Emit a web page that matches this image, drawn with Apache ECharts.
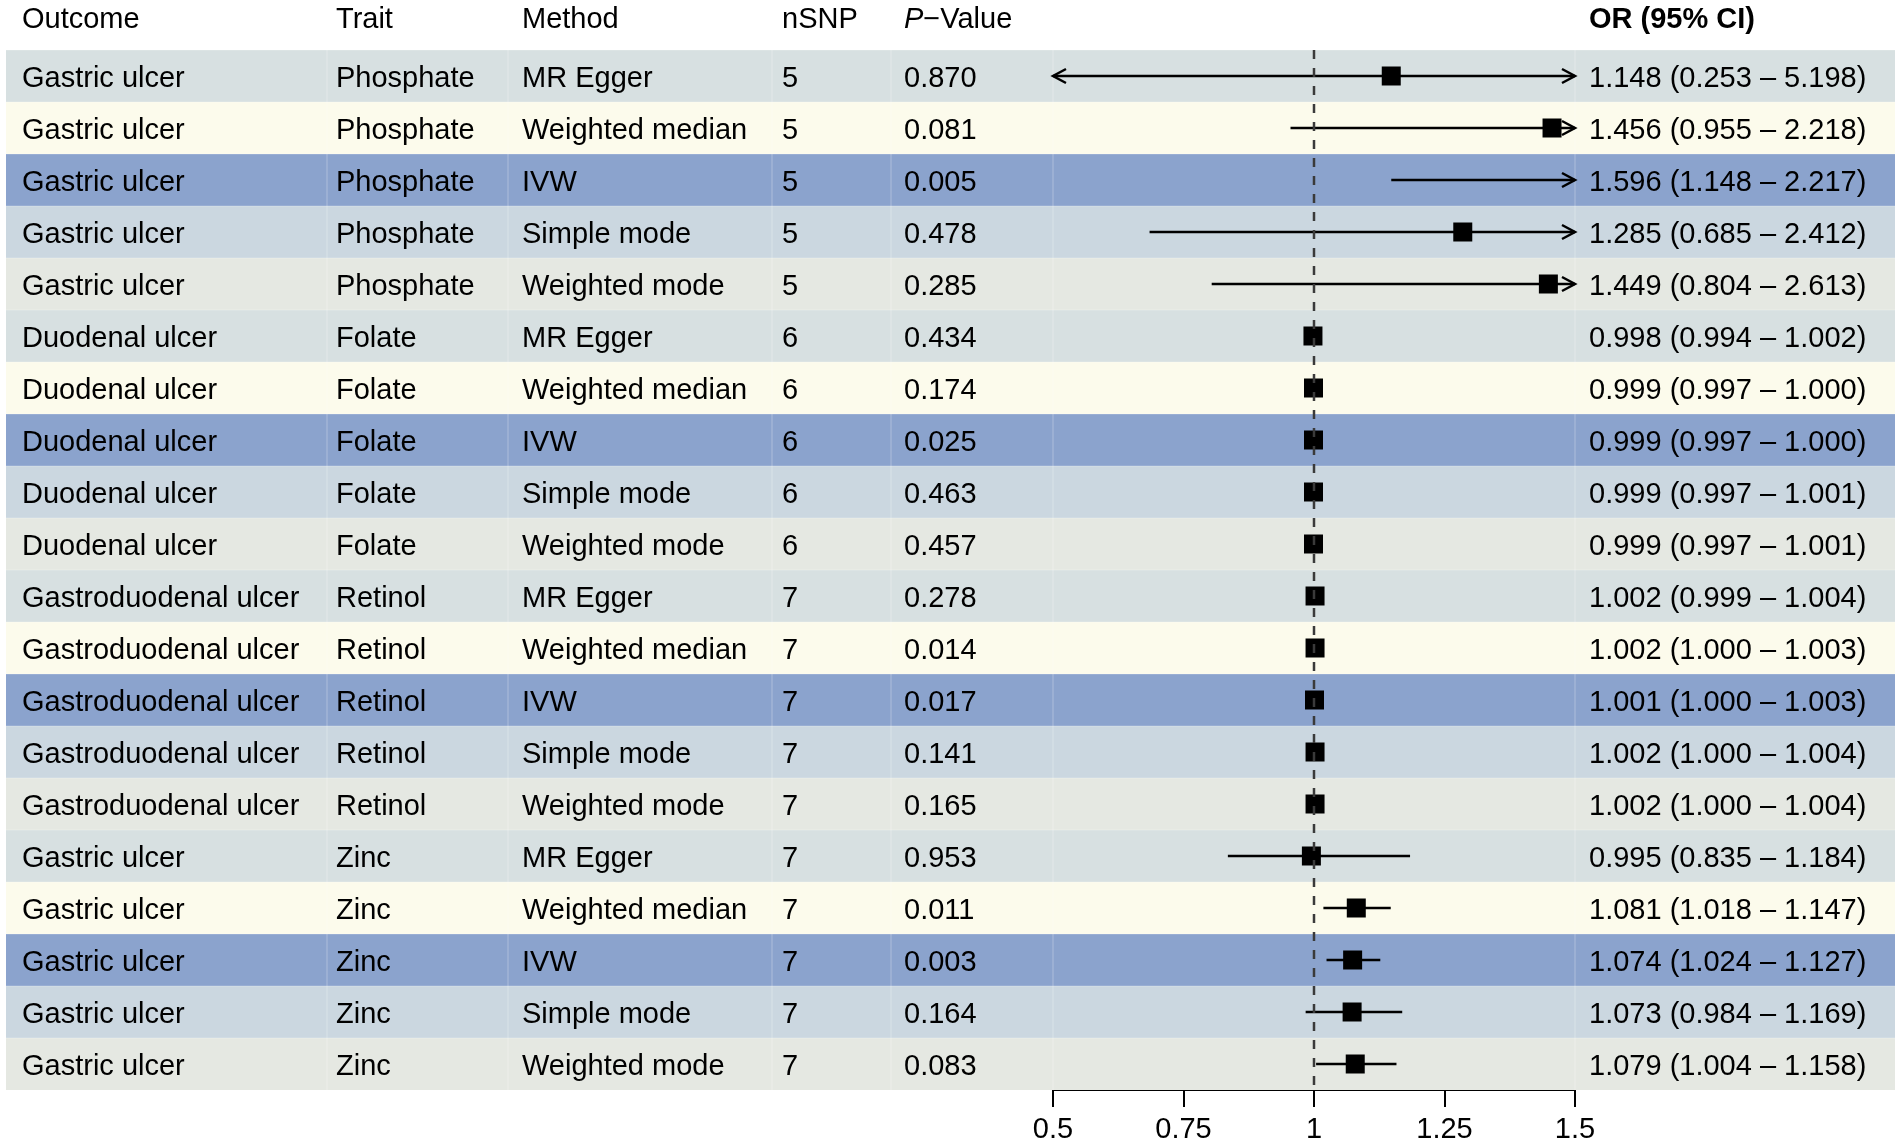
<!DOCTYPE html>
<html>
<head>
<meta charset="utf-8">
<script src="https://cdn.jsdelivr.net/npm/echarts@6/dist/echarts.min.js"></script>
<style>
html, body { margin: 0; padding: 0; background: #fff; }
#main { width: 1902px; height: 1144px; }
</style>
</head>
<body>
<div id="main"></div>
<script>
var outcomes = ['Gastric ulcer', 'Gastric ulcer', 'Gastric ulcer', 'Gastric ulcer', 'Gastric ulcer',
    'Duodenal ulcer', 'Duodenal ulcer', 'Duodenal ulcer', 'Duodenal ulcer', 'Duodenal ulcer',
    'Gastroduodenal ulcer', 'Gastroduodenal ulcer', 'Gastroduodenal ulcer', 'Gastroduodenal ulcer', 'Gastroduodenal ulcer',
    'Gastric ulcer', 'Gastric ulcer', 'Gastric ulcer', 'Gastric ulcer', 'Gastric ulcer'];
var traits = ['Phosphate', 'Phosphate', 'Phosphate', 'Phosphate', 'Phosphate',
    'Folate', 'Folate', 'Folate', 'Folate', 'Folate',
    'Retinol', 'Retinol', 'Retinol', 'Retinol', 'Retinol',
    'Zinc', 'Zinc', 'Zinc', 'Zinc', 'Zinc'];
var methods = ['MR Egger', 'Weighted median', 'IVW', 'Simple mode', 'Weighted mode',
    'MR Egger', 'Weighted median', 'IVW', 'Simple mode', 'Weighted mode',
    'MR Egger', 'Weighted median', 'IVW', 'Simple mode', 'Weighted mode',
    'MR Egger', 'Weighted median', 'IVW', 'Simple mode', 'Weighted mode'];
var nsnp = [5, 5, 5, 5, 5, 6, 6, 6, 6, 6, 7, 7, 7, 7, 7, 7, 7, 7, 7, 7];
var pvals = ['0.870', '0.081', '0.005', '0.478', '0.285',
    '0.434', '0.174', '0.025', '0.463', '0.457',
    '0.278', '0.014', '0.017', '0.141', '0.165',
    '0.953', '0.011', '0.003', '0.164', '0.083'];
var orVals = [1.148, 1.456, 1.596, 1.285, 1.449,
    0.998, 0.999, 0.999, 0.999, 0.999,
    1.002, 1.002, 1.001, 1.002, 1.002,
    0.995, 1.081, 1.074, 1.073, 1.079];
var lowerCI = [0.253, 0.955, 1.148, 0.685, 0.804,
    0.994, 0.997, 0.997, 0.997, 0.997,
    0.999, 1.000, 1.000, 1.000, 1.000,
    0.835, 1.018, 1.024, 0.984, 1.004];
var upperCI = [5.198, 2.218, 2.217, 2.412, 2.613,
    1.002, 1.000, 1.000, 1.001, 1.001,
    1.004, 1.003, 1.003, 1.004, 1.004,
    1.184, 1.147, 1.127, 1.169, 1.158];
var xTicks = [0.5, 0.75, 1, 1.25, 1.5];
var refValue = 1;

var dom = document.getElementById('main');
var myChart = echarts.init(dom);

var FONT = '"Liberation Sans", Arial, Helvetica, sans-serif';
var FS = 29;
var rowColors = ['#d7e0e1', '#fcfbec', '#8ba3cd', '#cbd7e0', '#e5e8e2'];
var colX = [22, 336, 522, 782, 904];
var orX = 1589;
var sepX = [327, 508, 772, 891, 1053, 1575];
var tableLeft = 6, tableRight = 1895;
var textShift = 2.5; // text sits a bit below band centre in the original
var xMin = xTicks[0], xMax = xTicks[xTicks.length - 1];

var rowIdx = outcomes.map(function (o, i) { return i; });
var fmt = function (v) { return v.toFixed(3); };
var orText = orVals.map(function (v, i) {
    return fmt(v) + ' (' + fmt(lowerCI[i]) + ' \u2013 ' + fmt(upperCI[i]) + ')';
});

function txt(x, y, s, extra) {
    var st = { text: s, fontSize: FS, fontFamily: FONT, fill: '#000', align: 'left', verticalAlign: 'middle' };
    if (extra) { for (var k in extra) st[k] = extra[k]; }
    return { type: 'text', x: x, y: y, style: st, silent: true };
}

var headerY = 20;
var headers = [
    txt(colX[0], headerY, 'Outcome'),
    txt(colX[1], headerY, 'Trait'),
    txt(colX[2], headerY, 'Method'),
    txt(colX[3], headerY, 'nSNP'),
    txt(colX[4], headerY, '{i|P}\u2212Value', {
        rich: { i: { fontStyle: 'italic', fontSize: FS, fontFamily: FONT, fill: '#000' } }
    }),
    txt(orX, headerY, 'OR (95% CI)', { fontWeight: 'bold' })
];

option = {
    animation: false,
    backgroundColor: '#fff',
    grid: { left: 1053, top: 50, width: 522, height: 1040 },
    xAxis: {
        type: 'value',
        min: xMin,
        max: xMax,
        interval: xTicks[1] - xTicks[0],
        splitLine: { show: false },
        axisLine: { show: true, lineStyle: { color: '#000', width: 2 } },
        axisTick: { show: true, length: 17, lineStyle: { color: '#000', width: 2 } },
        axisLabel: {
            color: '#000', fontSize: FS, fontFamily: FONT, margin: 25,
            formatter: function (v) { return String(v); }
        }
    },
    yAxis: { type: 'category', data: rowIdx, inverse: true, show: false },
    graphic: headers,
    series: [
        {
            // row bands + table text
            type: 'custom',
            z: 1,
            silent: true,
            data: rowIdx.map(function (i) { return [refValue, i]; }),
            renderItem: function (params, api) {
                var i = api.value(1);
                var c = api.coord([refValue, i]);
                var h = api.size([0, 1])[1];
                var y0 = c[1] - h / 2;
                var ty = c[1] + textShift;
                var ch = [{
                    type: 'rect',
                    shape: { x: tableLeft, y: y0, width: tableRight - tableLeft, height: h },
                    style: { fill: rowColors[i % rowColors.length] }
                }, {
                    type: 'rect',
                    shape: { x: tableLeft, y: y0 - 0.5, width: tableRight - tableLeft, height: 1 },
                    style: { fill: 'rgba(255,255,255,0.25)' }
                }];
                sepX.forEach(function (sx) {
                    ch.push({
                        type: 'rect',
                        shape: { x: sx - 0.75, y: y0, width: 1.5, height: h },
                        style: { fill: 'rgba(255,255,255,0.2)' }
                    });
                });
                ch.push(txt(colX[0], ty, outcomes[i]));
                ch.push(txt(colX[1], ty, traits[i]));
                ch.push(txt(colX[2], ty, methods[i]));
                ch.push(txt(colX[3], ty, String(nsnp[i])));
                ch.push(txt(colX[4], ty, pvals[i]));
                ch.push(txt(orX, ty, orText[i]));
                return { type: 'group', children: ch };
            }
        },
        {
            // confidence intervals with arrows when cut off
            type: 'custom',
            z: 2,
            silent: true,
            encode: { x: [2, 3], y: 1 },
            data: rowIdx.map(function (i) { return [orVals[i], i, lowerCI[i], upperCI[i]]; }),
            renderItem: function (params, api) {
                var i = api.value(1);
                var lo = api.value(2), hi = api.value(3);
                var p1 = api.coord([Math.max(lo, xMin), i]);
                var p2 = api.coord([Math.min(hi, xMax), i]);
                var st = { stroke: '#000', lineWidth: 2.5, fill: null };
                var ch = [{ type: 'line', shape: { x1: p1[0], y1: p1[1], x2: p2[0], y2: p2[1] }, style: st }];
                if (hi > xMax) {
                    ch.push({ type: 'polyline', shape: { points: [[p2[0] - 13, p2[1] - 7], [p2[0], p2[1]], [p2[0] - 13, p2[1] + 7]] }, style: st });
                }
                if (lo < xMin) {
                    ch.push({ type: 'polyline', shape: { points: [[p1[0] + 13, p1[1] - 7], [p1[0], p1[1]], [p1[0] + 13, p1[1] + 7]] }, style: st });
                }
                return { type: 'group', children: ch };
            }
        },
        {
            type: 'scatter',
            z: 3,
            clip: true,
            silent: true,
            symbol: 'rect',
            symbolSize: 19,
            itemStyle: { color: '#000', opacity: 1 },
            data: rowIdx.map(function (i) { return [orVals[i], i]; })
        },
        {
            // reference line at OR = 1
            type: 'custom',
            z: 4,
            silent: true,
            data: [[refValue, 0]],
            renderItem: function (params, api) {
                var h = api.size([0, 1])[1];
                var top = api.coord([refValue, 0]);
                var bot = api.coord([refValue, rowIdx.length - 1]);
                return {
                    type: 'line',
                    shape: { x1: top[0], y1: top[1] - h / 2, x2: top[0], y2: bot[1] + h / 2 },
                    style: { stroke: '#3a3a3a', lineWidth: 2.5, lineDash: [9, 9] }
                };
            }
        }
    ]
};

if (option && typeof option === 'object') {
    myChart.setOption(option, true);
}
</script>
</body>
</html>
